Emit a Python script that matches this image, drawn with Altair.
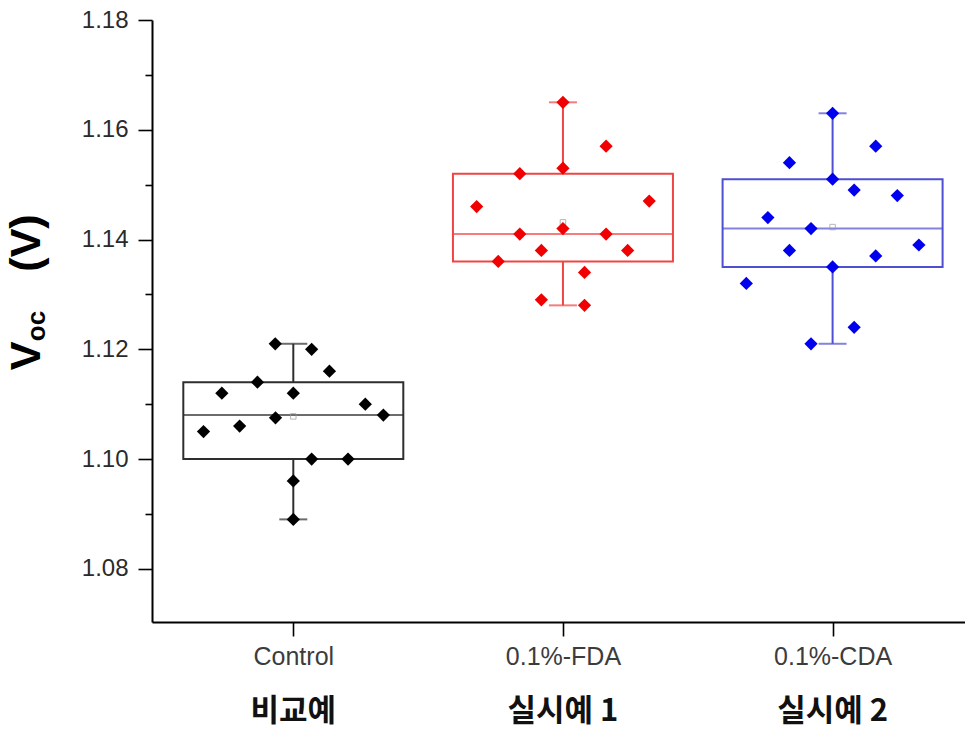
import altair as alt
import pandas as pd

categories = ["Control", "0.1%-FDA", "0.1%-CDA"]
korean_labels = ["비교예", "실시예 1", "실시예 2"]

control_voc = [1.121, 1.120, 1.116, 1.114, 1.112, 1.112, 1.110, 1.108, 1.1075, 1.106, 1.105, 1.100, 1.100, 1.096, 1.089]
control_jitter = [-0.067, 0.068, 0.134, -0.133, -0.265, 0.0, 0.267, 0.334, -0.066, -0.199, -0.333, 0.068, 0.203, 0.0, 0.0]
fda_voc = [1.165, 1.157, 1.152, 1.153, 1.146, 1.147, 1.141, 1.142, 1.141, 1.138, 1.138, 1.136, 1.134, 1.129, 1.128]
fda_jitter = [0.0, 0.16, -0.16, 0.0, -0.32, 0.32, -0.16, 0.0, 0.16, -0.08, 0.24, -0.24, 0.08, -0.08, 0.08]
cda_voc = [1.163, 1.157, 1.154, 1.151, 1.149, 1.148, 1.144, 1.142, 1.138, 1.137, 1.139, 1.135, 1.132, 1.124, 1.121]
cda_jitter = [0.0, 0.16, -0.16, 0.0, 0.08, 0.24, -0.24, -0.08, -0.16, 0.16, 0.32, 0.0, -0.32, 0.08, -0.08]

whisker_low = [1.089, 1.128, 1.121]
quartile_1 = [1.100, 1.136, 1.135]
median = [1.108, 1.141, 1.142]
quartile_3 = [1.114, 1.152, 1.151]
whisker_high = [1.121, 1.165, 1.163]

y_tick_values = [1.08, 1.09, 1.10, 1.11, 1.12, 1.13, 1.14, 1.15, 1.16, 1.17, 1.18]

point_colors = ["#000000", "#f00000", "#0000ee"]
box_colors = ["#2e2e2e", "#f04545", "#4f4fd2"]

# ---- tables ----
rows = []
for i, (vals, jit) in enumerate([(control_voc, control_jitter), (fda_voc, fda_jitter), (cda_voc, cda_jitter)]):
    for v, j in zip(vals, jit):
        rows.append({"cat": categories[i], "idx": i, "voc": v, "jit": j})
points_df = pd.DataFrame(rows)

stats_df = pd.DataFrame({
    "cat": categories,
    "idx": [0, 1, 2],
    "kor": korean_labels,
    "lo": whisker_low,
    "q1": quartile_1,
    "med": median,
    "q3": quartile_3,
    "hi": whisker_high,
})

label_list = "[" + ",".join("'" + c + "'" for c in categories) + "]"

x_scale = alt.Scale(domain=[-0.5055, 2.4725], nice=False, zero=False)
x_axis = alt.Axis(
    values=[0, 1, 2], labelExpr=label_list + "[datum.value]", title=None, grid=False,
    domainColor="#000000", domainWidth=2, tickColor="#000000", tickWidth=1.6, tickSize=14,
    labelFont="Liberation Sans", labelFontSize=25, labelColor="#3c3c3c", labelPadding=8,
)
y_scale = alt.Scale(domain=[1.0703, 1.18], nice=False, zero=False)
y_axis = alt.Axis(
    values=y_tick_values, title=None, grid=False,
    labelExpr="round(datum.value*100) % 2 == 0 ? format(datum.value, '.2f') : ''",
    domainColor="#000000", domainWidth=2, tickColor="#000000", tickWidth=1.6,
    tickSize={"condition": {"test": "round(datum.value*100) % 2 == 0", "value": 14}, "value": 7},
    labelFont="Liberation Sans", labelFontSize=24, labelColor="#2a2a2a", labelPadding=10,
)


def X(field):
    return alt.X(field, type="quantitative", scale=x_scale, axis=x_axis)


def Y(field):
    return alt.Y(field, type="quantitative", scale=y_scale, axis=y_axis)


stroke_enc = alt.Stroke("cat:N", scale=alt.Scale(domain=categories, range=box_colors), legend=None)
fill_enc = alt.Fill("cat:N", scale=alt.Scale(domain=categories, range=box_colors), legend=None)
color_enc = alt.Color("cat:N", scale=alt.Scale(domain=categories, range=point_colors), legend=None)

base_stats = alt.Chart(stats_df)

whiskers = base_stats.mark_rule(strokeWidth=2).encode(
    x=X("idx"), y=Y("lo"), y2="hi", stroke=stroke_enc
)
boxes = base_stats.mark_bar(size=220, orient="vertical", fill="white", strokeWidth=2).encode(
    x=X("idx"), y=Y("q1"), y2="q3", stroke=stroke_enc
)
median_lines = base_stats.mark_tick(orient="horizontal", size=220, thickness=2).encode(
    x=X("idx"), y=Y("med"), fill=fill_enc
)
cap_lo = base_stats.mark_tick(orient="horizontal", size=28, thickness=2).encode(
    x=X("idx"), y=Y("lo"), fill=fill_enc
)
cap_hi = base_stats.mark_tick(orient="horizontal", size=28, thickness=2).encode(
    x=X("idx"), y=Y("hi"), fill=fill_enc
)

means = alt.Chart(points_df).transform_aggregate(
    mean_voc="mean(voc)", groupby=["cat", "idx"]
).mark_point(shape="square", size=30, filled=False, color="#999999", strokeWidth=1).encode(
    x=X("idx"), y=Y("mean_voc")
)

points = alt.Chart(points_df).transform_calculate(
    pos="datum.idx + datum.jit"
).mark_point(shape="diamond", size=175, filled=True, opacity=1).encode(
    x=X("pos"), y=Y("voc"), color=color_enc
)

korean = base_stats.mark_text(
    font="Noto Sans CJK KR", fontSize=31, fontWeight="bold", color="#111111", baseline="middle"
).encode(x=X("idx"), y=alt.value(692), text="kor:N")

title_parts = [
    ("V", 43, -112, 336),
    ("oc", 26, -107, 306),
    ("(V)", 43, -112, 223),
]
title_layers = []
for txt, fs, px, py in title_parts:
    title_layers.append(
        alt.Chart(pd.DataFrame({"t": [txt]})).mark_text(
            font="Liberation Sans", fontSize=fs, fontWeight="bold", angle=270,
            align="center", baseline="alphabetic", color="#000000"
        ).encode(x=alt.value(px), y=alt.value(py), text="t:N")
    )

chart = alt.layer(
    whiskers, boxes, median_lines, cap_lo, cap_hi, means, points, korean, *title_layers
).properties(
    width=813, height=602,
    autosize=alt.AutoSizeParams(type="none"),
    padding={"left": 152, "top": 20, "right": 0, "bottom": 118},
    background="white",
).configure_view(stroke=None)

chart.save("out.html", embed_options={"renderer": "svg", "actions": False})
